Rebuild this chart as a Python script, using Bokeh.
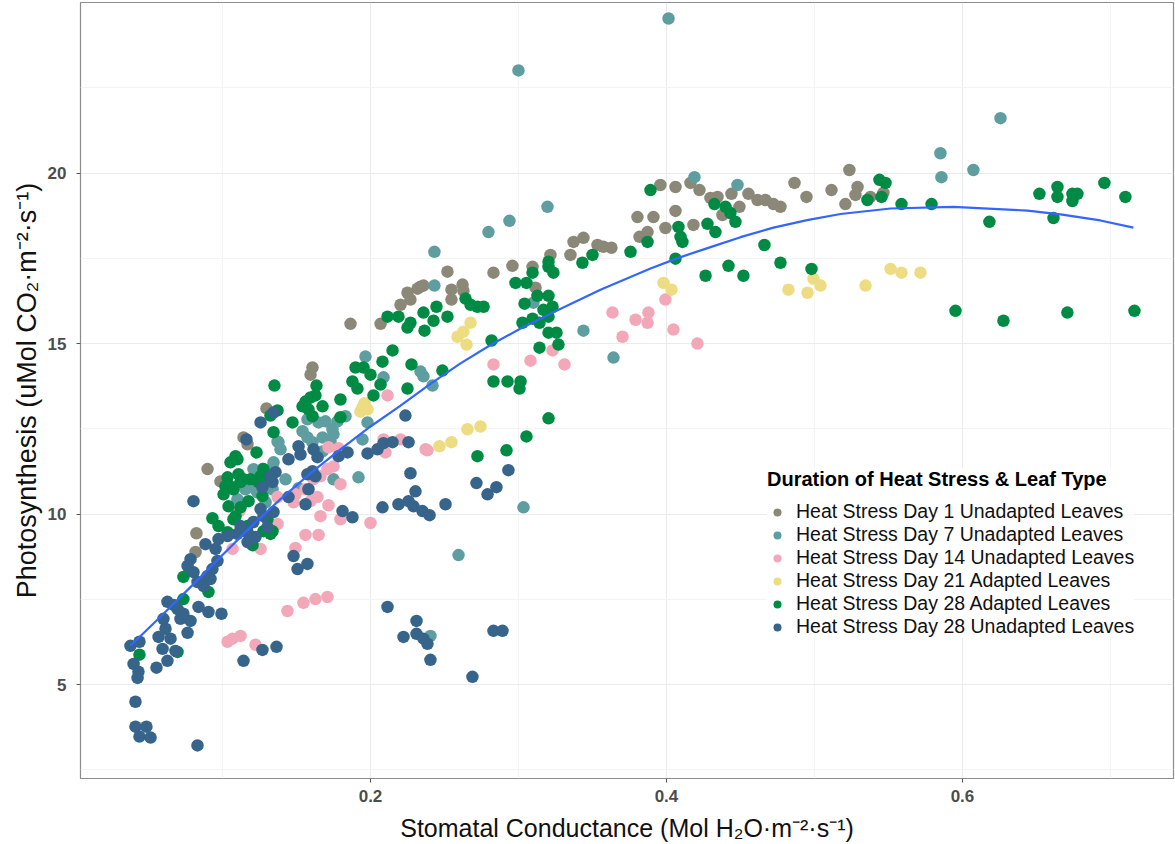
from bokeh.plotting import figure
from bokeh.models import FixedTicker, Range1d, ColumnDataSource, Legend, LegendItem
from bokeh.embed import file_html
from bokeh.resources import INLINE

# ---------------- data (stomatal conductance, photosynthesis) ----------------
series_names = [
    "Heat Stress Day 1 Unadapted Leaves",
    "Heat Stress Day 7 Unadapted Leaves",
    "Heat Stress Day 14 Unadapted Leaves",
    "Heat Stress Day 21 Adapted Leaves",
    "Heat Stress Day 28 Adapted Leaves",
    "Heat Stress Day 28 Unadapted Leaves",
]
series_colors = ["#8B8878", "#5F9EA0", "#F2A8B8", "#EEDC82", "#008B45", "#36648B"]

day1_unadapted = [
    (0.1865, 15.58), (0.1608, 14.30), (0.1595, 14.09), (0.1297, 13.10), (0.1169, 12.05),
    (0.1142, 12.25), (0.0899, 11.32), (0.0986, 10.96), (0.0824, 9.44), (0.0818, 8.89),
    (0.2068, 15.58), (0.2250, 16.49), (0.2338, 16.67), (0.2203, 16.14), (0.2270, 16.29),
    (0.2318, 16.61), (0.2358, 16.70), (0.2520, 17.11), (0.2547, 16.58), (0.2547, 16.29),
    (0.2622, 16.73), (0.2628, 16.55), (0.2831, 17.08), (0.2959, 17.28), (0.3095, 17.25),
    (0.3115, 16.64), (0.3216, 17.60), (0.3351, 17.60), (0.3372, 17.98), (0.3439, 18.10),
    (0.3534, 17.89), (0.3574, 17.84), (0.3628, 17.81), (0.3804, 18.71), (0.3818, 18.13),
    (0.3872, 18.27), (0.3912, 18.71), (0.3959, 19.65), (0.3993, 18.39), (0.4061, 18.89),
    (0.4061, 19.59), (0.4162, 19.71), (0.4223, 19.50), (0.4182, 18.48), (0.4297, 19.27),
    (0.4345, 19.30), (0.4378, 18.77), (0.4439, 19.39), (0.4493, 19.01), (0.4554, 19.39),
    (0.4615, 19.21), (0.4669, 19.21), (0.4723, 19.09), (0.4770, 19.01), (0.4865, 19.71),
    (0.4946, 19.30), (0.5115, 19.50), (0.5209, 19.09), (0.5236, 20.09), (0.5291, 19.59),
    (0.5277, 19.36), (0.5378, 19.30), (0.5466, 19.42),
]

day7_unadapted = [
    (0.4014, 24.53), (0.3000, 23.01), (0.5851, 20.58), (0.6257, 21.61), (0.6074, 20.09),
    (0.5858, 19.88), (0.4189, 19.88), (0.4480, 19.65), (0.3196, 19.01), (0.2939, 18.60),
    (0.2797, 18.27), (0.2432, 17.69), (0.2432, 16.70), (0.3439, 15.38), (0.3642, 14.59),
    (0.3101, 16.20), (0.2338, 14.18), (0.2358, 14.04), (0.2419, 13.77), (0.3034, 10.20),
    (0.2595, 8.80), (0.2405, 6.43), (0.1966, 14.62), (0.2088, 14.01), (0.1980, 12.69),
    (0.1946, 12.19), (0.1831, 12.87), (0.1743, 12.49), (0.1777, 12.72), (0.1696, 12.72),
    (0.1649, 12.69), (0.1574, 12.78), (0.1541, 12.43), (0.1574, 12.25), (0.1608, 12.11),
    (0.1676, 12.25), (0.1730, 12.11), (0.1750, 12.34), (0.1676, 11.84), (0.1919, 11.08),
    (0.1750, 11.02), (0.1378, 12.11), (0.1392, 11.90), (0.1345, 11.52), (0.1426, 11.02),
    (0.1514, 10.76), (0.1270, 11.32), (0.1223, 10.73), (0.1338, 10.73), (0.1291, 10.35),
    (0.1209, 11.32), (0.1155, 10.73), (0.1236, 10.64), (0.1338, 11.37), (0.1372, 12.13),
    (0.1101, 10.44),
]

day14_unadapted = [
    (0.3993, 16.29), (0.3878, 15.91), (0.3872, 15.61), (0.4047, 15.41), (0.4209, 15.00),
    (0.3635, 15.91), (0.3791, 15.70), (0.3703, 15.20), (0.3230, 14.80), (0.3081, 14.50),
    (0.3311, 14.39), (0.2831, 14.39), (0.2115, 13.48), (0.2372, 11.90), (0.2203, 12.19),
    (0.2088, 12.19), (0.1716, 11.96), (0.1784, 11.93), (0.1750, 11.40), (0.1709, 11.32),
    (0.1662, 11.11), (0.1615, 11.02), (0.1561, 10.73), (0.1493, 10.58), (0.1480, 10.35),
    (0.1595, 10.38), (0.1642, 10.50), (0.1797, 10.88), (0.1716, 10.26), (0.1662, 9.94),
    (0.1797, 9.85), (0.2000, 9.74), (0.1561, 9.39), (0.1649, 9.39), (0.1493, 9.01),
    (0.1439, 7.16), (0.1547, 7.40), (0.1628, 7.51), (0.1709, 7.57), (0.1223, 6.17),
    (0.1122, 6.43), (0.1068, 6.35), (0.1034, 6.26), (0.2101, 11.81), (0.2385, 11.87),
    (0.1068, 8.98), (0.1257, 8.98), (0.1115, 10.09), (0.1372, 9.71), (0.1372, 10.50),
]

day21_adapted = [
    (0.3980, 16.78), (0.4034, 16.58), (0.4824, 16.58), (0.4953, 16.49), (0.4993, 16.90),
    (0.5041, 16.70), (0.5345, 16.70), (0.5514, 17.19), (0.5588, 17.08), (0.5716, 17.08),
    (0.2588, 15.20), (0.2628, 15.35), (0.2676, 15.61), (0.2649, 14.97), (0.2655, 12.49),
    (0.2743, 12.57), (0.2466, 11.99), (0.2547, 12.11), (0.1946, 13.13), (0.1980, 13.07),
    (0.1932, 13.01), (0.1959, 13.25),
]

day28_adapted = [
    (0.5439, 19.80), (0.5480, 19.71), (0.5358, 19.21), (0.5453, 19.30), (0.5588, 19.09),
    (0.5791, 19.09), (0.6182, 18.57), (0.6520, 19.39), (0.6642, 19.59), (0.6642, 19.30),
    (0.6743, 19.39), (0.6777, 19.39), (0.6743, 19.18), (0.6959, 19.71), (0.7101, 19.30),
    (0.6615, 18.68), (0.5953, 15.96), (0.6277, 15.67), (0.6709, 15.91), (0.7162, 15.96),
    (0.3892, 19.50), (0.4081, 18.42), (0.4095, 18.13), (0.4108, 17.98), (0.4061, 17.49),
    (0.4264, 16.99), (0.4277, 18.51), (0.4331, 18.27), (0.4324, 19.09), (0.4399, 19.01),
    (0.4432, 18.83), (0.4466, 18.57), (0.4419, 17.28), (0.4520, 16.99), (0.4662, 17.89),
    (0.4770, 17.37), (0.4980, 17.19), (0.3872, 17.98),
    (0.3757, 17.69), (0.3500, 17.60), (0.3432, 17.37), (0.3203, 17.40), (0.3203, 17.25),
    (0.3236, 17.08), (0.3095, 17.08), (0.2980, 16.78), (0.3054, 16.78), (0.3128, 16.40),
    (0.3203, 16.40), (0.3041, 16.17), (0.3230, 16.08), (0.3169, 15.99), (0.3203, 15.79),
    (0.3027, 15.61), (0.3095, 15.73), (0.3142, 15.61), (0.3203, 15.32), (0.3257, 15.32),
    (0.3270, 14.97), (0.3142, 14.88), (0.2818, 15.09), (0.2723, 16.08), (0.2764, 16.08),
    (0.2676, 16.14), (0.2642, 16.32), (0.2446, 16.08), (0.2358, 15.91), (0.2426, 15.67),
    (0.2520, 15.79), (0.2365, 15.38), (0.2277, 14.39), (0.2486, 14.21), (0.2250, 13.68),
    (0.2831, 13.89), (0.2926, 13.89), (0.3014, 13.89), (0.3007, 13.68), (0.3203, 12.81),
    (0.3054, 12.28), (0.2919, 11.87), (0.2723, 11.70),
    (0.2149, 14.80), (0.2081, 14.47), (0.1899, 14.30), (0.1953, 14.30), (0.2000, 14.09),
    (0.1878, 13.89), (0.1912, 13.68), (0.2068, 13.80), (0.2020, 13.48), (0.1797, 13.36),
    (0.1635, 13.77), (0.1628, 13.48), (0.1595, 13.42), (0.1561, 13.30), (0.1541, 13.16),
    (0.1581, 13.07), (0.1608, 12.87), (0.1676, 13.16), (0.1797, 12.84), (0.1351, 13.77),
    (0.1345, 12.40), (0.1473, 12.69), (0.1372, 13.04), (0.1324, 12.89), (0.1230, 11.81),
    (0.1101, 11.61), (0.1142, 11.02), (0.1189, 11.02), (0.1074, 10.73), (0.1122, 10.94),
    (0.1277, 11.32), (0.1304, 11.08), (0.1243, 10.94), (0.1270, 10.53), (0.1176, 10.38),
    (0.1122, 10.20), (0.1304, 9.85), (0.1277, 9.50), (0.1338, 9.50), (0.1203, 9.09),
    (0.1088, 9.94), (0.2115, 15.79), (0.2189, 15.79), (0.2270, 15.61), (0.2250, 15.47),
    (0.1088, 11.70), (0.1054, 11.52), (0.1108, 11.17), (0.1034, 11.08), (0.1020, 10.82),
    (0.1068, 10.79), (0.1007, 10.58), (0.1257, 11.11), (0.1041, 10.23), (0.0932, 9.88),
    (0.0973, 9.65), (0.1034, 9.47), (0.1169, 9.65), (0.1324, 9.42), (0.1074, 9.85),
    (0.0736, 8.16), (0.0905, 7.72), (0.0736, 7.51), (0.0439, 5.88), (0.0696, 5.96),
]

day28_unadapted = [
    (0.0378, 6.14), (0.0439, 6.26), (0.0399, 5.61), (0.0432, 5.38), (0.0426, 5.20),
    (0.0412, 4.50), (0.0412, 3.77), (0.0486, 3.77), (0.0439, 3.48), (0.0514, 3.45),
    (0.0831, 3.22), (0.0554, 5.50), (0.0568, 6.40), (0.0595, 6.05), (0.0628, 5.70),
    (0.0649, 6.35), (0.0615, 6.64), (0.0601, 6.93), (0.0628, 7.43), (0.0696, 7.22),
    (0.0716, 6.93), (0.0764, 6.52), (0.0784, 6.87), (0.0736, 7.08), (0.0682, 5.99),
    (0.0838, 7.28), (0.0905, 7.13), (0.0993, 7.08), (0.1142, 5.70), (0.1270, 6.02),
    (0.1365, 6.11), (0.0784, 8.68), (0.0764, 8.48), (0.0804, 8.30), (0.0831, 8.01),
    (0.0872, 7.89), (0.0899, 8.19), (0.0932, 8.39), (0.0966, 8.63), (0.0885, 9.12),
    (0.0953, 8.98), (0.0804, 10.38), (0.0973, 9.27), (0.1034, 9.36), (0.1101, 9.42),
    (0.1169, 9.47), (0.1209, 9.77), (0.1277, 9.94), (0.1257, 10.15), (0.1345, 10.06),
    (0.1169, 9.18), (0.1223, 9.33), (0.1304, 9.62), (0.1122, 9.65), (0.1270, 10.79),
    (0.1338, 10.94), (0.1358, 11.23), (0.1257, 12.69), (0.1345, 12.98), (0.1162, 12.19),
    (0.0669, 7.34), (0.0919, 8.10), (0.1446, 11.61), (0.1514, 11.99), (0.1527, 11.75),
    (0.1615, 11.90), (0.1642, 11.67), (0.1608, 11.26), (0.1574, 11.17), (0.1628, 11.11),
    (0.1446, 10.50), (0.1561, 10.29), (0.1581, 10.73), (0.1784, 11.70), (0.1845, 11.81),
    (0.1980, 11.78), (0.2047, 11.90), (0.2088, 12.08), (0.2149, 12.11), (0.2257, 12.11),
    (0.2236, 12.89), (0.2270, 11.20), (0.2304, 10.67), (0.2081, 10.20), (0.2189, 10.29),
    (0.2257, 10.38), (0.2291, 10.23), (0.2351, 10.09), (0.2399, 9.97), (0.2507, 10.29),
    (0.2716, 10.91), (0.2791, 10.58), (0.2851, 10.79), (0.2932, 11.29), (0.1811, 10.09),
    (0.1878, 9.91), (0.1480, 8.77), (0.1507, 8.39), (0.1574, 8.54), (0.2115, 7.28),
    (0.2311, 6.87), (0.2223, 6.40), (0.2311, 6.49), (0.2358, 6.35), (0.2385, 6.20),
    (0.2405, 5.73), (0.2831, 6.58), (0.2892, 6.58), (0.2689, 5.23), (0.1324, 11.11),
]

# smooth (loess) curve
smooth_x = [0.0378, 0.0581, 0.0797, 0.1000, 0.1189, 0.1392, 0.1595, 0.1797, 0.2000,
            0.2203, 0.2405, 0.2608, 0.2811, 0.3014, 0.3264, 0.3554, 0.3892, 0.4085,
            0.4277, 0.4500, 0.4723, 0.4950, 0.5176, 0.5514, 0.5939, 0.6439, 0.6662,
            0.6932, 0.7155]
smooth_y = [6.14, 6.99, 7.92, 8.80, 9.62, 10.44, 11.20, 11.90, 12.57,
            13.18, 13.82, 14.42, 14.96, 15.44, 15.98, 16.58, 17.20, 17.52,
            17.80, 18.12, 18.40, 18.62, 18.80, 18.96, 19.01, 18.90, 18.79,
            18.61, 18.40]

x_ticks = [0.2, 0.4, 0.6]
x_minor = [0.1, 0.3, 0.5, 0.7]
y_ticks = [5, 10, 15, 20]
y_minor = [2.5, 7.5, 12.5, 17.5, 22.5]

all_series = [day1_unadapted, day7_unadapted, day14_unadapted,
              day21_adapted, day28_adapted, day28_unadapted]

# ---------------- figure ----------------
FONT = "Liberation Sans"
p = figure(width=1175, height=844, output_backend="svg", toolbar_location=None,
           x_range=Range1d(0.00405, 0.7426), y_range=Range1d(2.25, 25.0),
           min_border_left=80, min_border_right=2, min_border_top=2,
           min_border_bottom=64)
p.background_fill_color = "white"
p.border_fill_color = "white"
p.outline_line_color = "#8C8C8C"
p.outline_line_width = 1.2

p.xaxis.ticker = FixedTicker(ticks=x_ticks, minor_ticks=x_minor)
p.yaxis.ticker = FixedTicker(ticks=y_ticks, minor_ticks=y_minor)
for g in (p.xgrid, p.ygrid):
    g.grid_line_color = "#EBEBEB"
    g.grid_line_width = 1
    g.minor_grid_line_color = "#F4F4F4"
    g.minor_grid_line_width = 1

for ax in (p.xaxis, p.yaxis):
    ax.axis_line_color = None
    ax.major_tick_line_color = "#555555"
    ax.major_tick_out = 4
    ax.major_tick_in = 0
    ax.minor_tick_line_color = None
    ax.major_label_text_font = FONT
    ax.major_label_text_font_style = "bold"
    ax.major_label_text_font_size = "17px"
    ax.major_label_text_color = "#4D4D4D"
    ax.axis_label_text_font = FONT
    ax.axis_label_text_font_style = "normal"
    ax.axis_label_text_color = "#111111"

p.xaxis.axis_label = "Stomatal Conductance (Mol H\u2082O\u00b7m\u207b\u00b2\u00b7s\u207b\u00b9)"
p.yaxis.axis_label = "Photosynthesis (uMol CO\u2082\u00b7m\u207b\u00b2\u00b7s\u207b\u00b9)"
p.xaxis.axis_label_text_font_size = "25px"
p.yaxis.axis_label_text_font_size = "27px"
p.xaxis.major_label_standoff = 7
p.xaxis.axis_label_standoff = 9
p.yaxis.major_label_standoff = 10
p.yaxis.axis_label_standoff = 3

items = []
for name, color, pts in zip(series_names, series_colors, all_series):
    src = ColumnDataSource(dict(x=[a for a, b in pts], y=[b for a, b in pts]))
    r = p.scatter("x", "y", source=src, size=12.5, fill_color=color, line_color=None)
    items.append(LegendItem(label=name, renderers=[r]))

p.line(smooth_x, smooth_y, line_color="#3366FF", line_width=2.2)

legend = Legend(items=items, location=(687, 140),
                title="Duration of Heat Stress & Leaf Type",
                title_text_font=FONT, title_text_font_style="bold",
                title_text_font_size="20px", title_text_color="#000000",
                title_standoff=9,
                label_text_font=FONT, label_text_font_size="19.5px",
                label_text_color="#111111",
                label_height=20, glyph_height=20, glyph_width=20,
                label_standoff=9, spacing=0, padding=4, margin=0,
                border_line_color=None, background_fill_color="white",
                background_fill_alpha=1.0)
p.add_layout(legend)

open("out.html", "w").write(file_html(p, INLINE))
